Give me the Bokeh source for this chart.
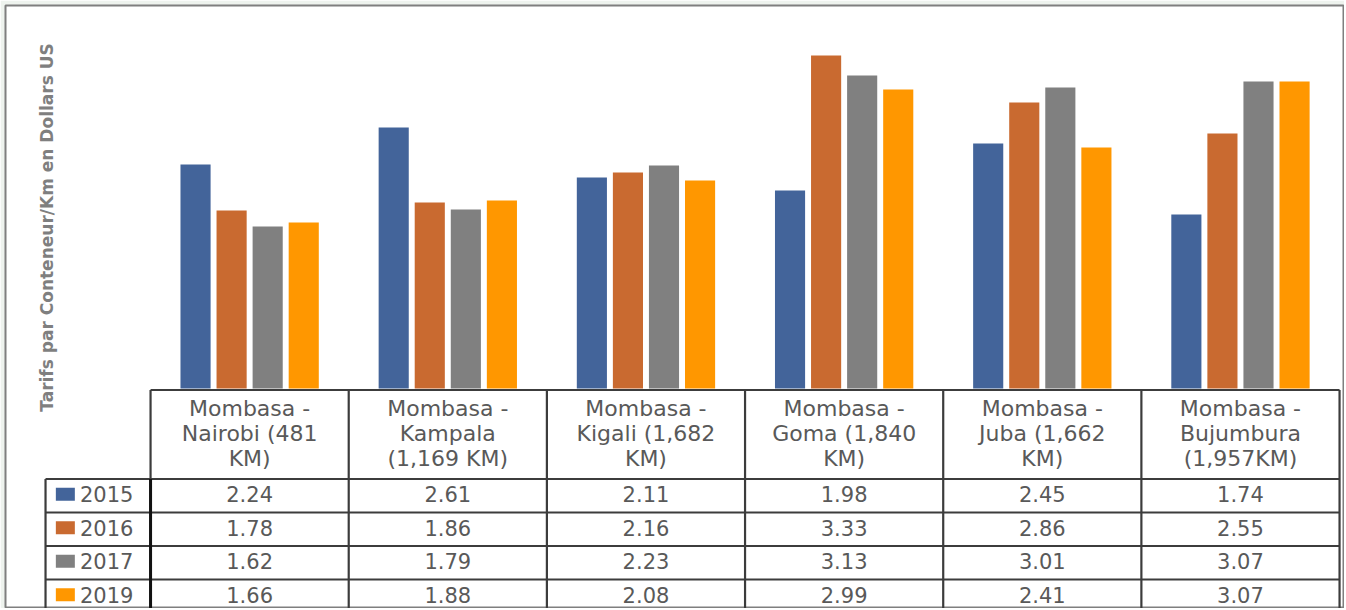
import math
from bokeh.plotting import figure
from bokeh.models import Range1d
from bokeh.core.properties import value
from bokeh.embed import file_html
from bokeh.resources import INLINE

# ---- data ----
routes = [
    "Mombasa -\nNairobi (481\nKM)",
    "Mombasa -\nKampala\n(1,169 KM)",
    "Mombasa -\nKigali (1,682\nKM)",
    "Mombasa -\nGoma (1,840\nKM)",
    "Mombasa -\nJuba (1,662\nKM)",
    "Mombasa -\nBujumbura\n(1,957KM)",
]
years = ["2015", "2016", "2017", "2019"]
v2015 = [2.24, 2.61, 2.11, 1.98, 2.45, 1.74]
v2016 = [1.78, 1.86, 2.16, 3.33, 2.86, 2.55]
v2017 = [1.62, 1.79, 2.23, 3.13, 3.01, 3.07]
v2019 = [1.66, 1.88, 2.08, 2.99, 2.41, 3.07]
series = [v2015, v2016, v2017, v2019]
colors = ["#43649a", "#c96a30", "#808080", "#ff9700"]
y_label = "Tarifs par Conteneur/Km en Dollars US"

FONT = "DejaVu Sans"
TXT = "#595959"
LINE = "#3c3c3c"

p = figure(width=1344, height=608, output_backend="svg", toolbar_location=None,
           x_range=Range1d(-0.732, 6.025), y_range=Range1d(-2.20, 3.83),
           min_border_left=5, min_border_top=5, min_border_right=0, min_border_bottom=0)
p.xaxis.visible = False
p.yaxis.visible = False
p.grid.visible = False
p.outline_line_color = "#7f7f7f"
p.outline_line_width = 2
p.background_fill_color = "white"
p.border_fill_color = "#eef3ee"

n = len(routes)
bar_w = 0.152
step = 0.182
offsets = [(k - (len(years) - 1) / 2) * step for k in range(len(years))]

# bars
for k, (yr, vals, col) in enumerate(zip(years, series, colors)):
    xs = [i + 0.5 + offsets[k] for i in range(n)]
    p.vbar(x=xs, top=vals, bottom=0, width=bar_w, fill_color=col, line_color=None)

# table geometry
head_top = -0.015
head_bot = -0.905
row_h = 0.335
leg_left = -0.53
row_bounds = [head_bot - row_h * r for r in range(len(years) + 1)]
table_bottom = row_bounds[-1]

# horizontal lines
hx0, hx1, hy = [0], [n], [head_top]
for yb in row_bounds[:-1]:
    hx0.append(leg_left); hx1.append(n); hy.append(yb)
p.segment(x0=hx0, y0=hy, x1=hx1, y1=hy, line_color=LINE, line_width=2.2)

# vertical lines
vx, vy0, vy1 = [], [], []
for i in range(n + 1):
    vx.append(i); vy0.append(head_top); vy1.append(table_bottom)
vx.append(leg_left); vy0.append(head_bot); vy1.append(table_bottom)
p.segment(x0=vx, y0=vy0, x1=vx, y1=vy1, line_color=LINE, line_width=2.2)
p.segment(x0=[0], y0=[head_bot], x1=[0], y1=[table_bottom], line_color="#111111", line_width=3)

# header text
p.text(x=[i + 0.5 for i in range(n)], y=[(head_top + head_bot) / 2 + 0.01] * n, text=routes,
       text_align="center", text_baseline="middle", text_font=value(FONT),
       text_font_size="22px", text_color=TXT, text_line_height=1.0)

# rows
for k, (yr, vals, col) in enumerate(zip(years, series, colors)):
    yc = row_bounds[k] - row_h / 2 + 0.015
    p.rect(x=[-0.43], y=[yc], width=19, height=13, width_units="screen",
           height_units="screen", fill_color=col, line_color=None)
    p.text(x=[-0.356], y=[yc], text=[yr], text_align="left", text_baseline="middle",
           text_font=value(FONT), text_font_size="21px", text_color=TXT)
    p.text(x=[i + 0.5 for i in range(n)], y=[yc] * n, text=["%.2f" % v for v in vals],
           text_align="center", text_baseline="middle", text_font=value(FONT),
           text_font_size="21px", text_color=TXT)

# y label
p.text(x=[-0.525], y=[1.61], text=[y_label], angle=math.pi / 2, text_align="center",
       text_baseline="middle", text_font=value(FONT), text_font_size="17px",
       text_font_style="bold", text_color="#7f7f7f")

open("out.html", "w").write(file_html(p, INLINE))
